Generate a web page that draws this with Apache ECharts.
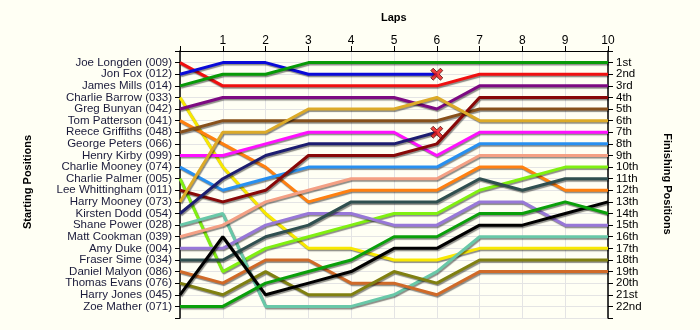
<!DOCTYPE html>
<html>
<head>
<meta charset="utf-8">
<script src="https://cdn.jsdelivr.net/npm/echarts@6/dist/echarts.min.js"></script>
<style>
html,body{margin:0;padding:0;background:#fffff4;}
#chart{width:700px;height:330px;}
</style>
</head>
<body>
<div id="chart"></div>
<script>
const laps = [0,1,2,3,4,5,6,7,8,9,10];
const lapLabels = ['','1','2','3','4','5','6','7','8','9','10'];
const startNames = ['Joe Longden (009)','Jon Fox (012)','James Mills (014)','Charlie Barrow (033)','Greg Bunyan (042)','Tom Patterson (041)','Reece Griffiths (048)','George Peters (066)','Henry Kirby (099)','Charlie Mooney (074)','Charlie Palmer (005)','Lee Whittingham (011)','Harry Mooney (073)','Kirsten Dodd (054)','Shane Power (028)','Matt Cookman (039)','Amy Duke (004)','Fraser Sime (034)','Daniel Malyon (086)','Thomas Evans (076)','Harry Jones (045)','Zoe Mather (071)'];
const finishLabels = ['1st','2nd','3rd','4th','5th','6th','7th','8th','9th','10th','11th','12th','13th','14th','15th','16th','17th','18th','19th','20th','21st','22nd'];

const joeLongden     = [1,3,3,3,3,3,3,2,2,2,2];
const jonFox         = [2,1,1,2,2,2,2];
const jamesMills     = [3,2,2,1,1,1,1,1,1,1,1];
const charlieBarrow  = [4,10,14,17,17,18,18,17,17,17,17];
const gregBunyan     = [5,4,4,4,4,4,5,3,3,3,3];
const tomPatterson   = [6,8,10,13,12,12,12,10,10,12,12];
const reeceGriffiths = [7,6,6,6,6,6,6,5,5,5,5];
const henryKirby     = [9,9,8,7,7,7,9,7,7,7,7];
const charlieMooney  = [10,12,11,10,10,10,10,8,8,8,8];
const charliePalmer  = [11,19,17,16,15,14,14,12,11,10,10];
const leeWhittingham = [12,13,12,9,9,9,8,4,4,4,4];
const harryMooney    = [13,7,7,5,5,5,4,6,6,6,6];
const kirstenDodd    = [14,11,9,8,8,8,7];
const shanePower     = [15,14,22,22,22,21,19,16,16,16,16];
const mattCookman    = [16,15,13,12,11,11,11,9,9,9,9];
const amyDuke        = [17,17,15,14,14,15,15,13,13,15,15];
const fraserSime     = [18,18,16,15,13,13,13,11,12,11,11];
const danielMalyon   = [19,20,18,18,20,20,21,19,19,19,19];
const thomasEvans    = [20,21,19,21,21,19,20,18,18,18,18];
const harryJones     = [21,16,21,20,19,17,17,15,15,14,13];
const zoeMather      = [22,22,20,19,18,16,16,14,14,13,14];

const retiredLap = [6,6];
const retiredPos = [2,7];

const drivers = [
  ['Joe Longden', joeLongden, '#f01010'],
  ['Jon Fox', jonFox, '#0a0ad8'],
  ['James Mills', jamesMills, '#079a07'],
  ['Charlie Barrow', charlieBarrow, '#f8e800'],
  ['Greg Bunyan', gregBunyan, '#7d0a82'],
  ['Tom Patterson', tomPatterson, '#ff8010'],
  ['Reece Griffiths', reeceGriffiths, '#87501a'],
  ['Henry Kirby', henryKirby, '#ff10ff'],
  ['Charlie Mooney', charlieMooney, '#2890f0'],
  ['Charlie Palmer', charliePalmer, '#80f010'],
  ['Lee Whittingham', leeWhittingham, '#880808'],
  ['Harry Mooney', harryMooney, '#dcaa28'],
  ['Kirsten Dodd', kirstenDodd, '#1c1c70'],
  ['Shane Power', shanePower, '#68c8a8'],
  ['Matt Cookman', mattCookman, '#f4a084'],
  ['Amy Duke', amyDuke, '#9878d8'],
  ['Fraser Sime', fraserSime, '#2f4f4f'],
  ['Daniel Malyon', danielMalyon, '#d06a28'],
  ['Thomas Evans', thomasEvans, '#808010'],
  ['Harry Jones', harryJones, '#000000'],
  ['Zoe Mather', zoeMather, '#0aa00a']
];

const chart = echarts.init(document.getElementById('chart'));
const font = 'Liberation Sans, Arial, sans-serif';

const series = drivers.map(d => ({
  name: d[0],
  type: 'line',
  xAxisIndex: 0,
  yAxisIndex: 0,
  symbol: 'none',
  silent: true,
  animation: false,
  data: d[1].map((p, i) => [laps[i], p]),
  lineStyle: {
    color: d[2], width: 3,
    shadowColor: 'rgba(0,0,0,0.45)', shadowBlur: 1, shadowOffsetX: 1, shadowOffsetY: 1.5
  }
}));

series.push({
  type: 'scatter',
  xAxisIndex: 0,
  yAxisIndex: 0,
  animation: false,
  silent: true,
  z: 10,
  symbol: 'path://M2,0 L5,3 L8,0 L10,2 L7,5 L10,8 L8,10 L5,7 L2,10 L0,8 L3,5 L0,2 Z',
  symbolSize: 12,
  itemStyle: { color: '#ee1111', borderColor: '#501010', borderWidth: 1 },
  data: retiredLap.map((l, i) => [l, retiredPos[i]])
});

chart.setOption({
  backgroundColor: '#fffff4',
  animation: false,
  grid: { left: 180, right: 92, top: 51, bottom: 12 },
  xAxis: {
    type: 'value', position: 'top', min: 0, max: 10, interval: 1,
    axisLine: { show: true, lineStyle: { color: '#000', width: 1 } },
    axisTick: { show: true, length: 5, lineStyle: { color: '#000' } },
    axisLabel: { color: '#000', fontFamily: font, fontSize: 12, margin: 4,
      formatter: v => lapLabels[v] },
    splitLine: { show: true, lineStyle: { color: '#e4e4e4', width: 1 } }
  },
  yAxis: [
    {
      type: 'value', inverse: true, min: 0, max: 23, interval: 1, position: 'left',
      axisLine: { show: true, lineStyle: { color: '#000', width: 1.5 } },
      axisTick: { show: true, length: 5, lineStyle: { color: '#000' } },
      axisLabel: { color: '#1a1a3a', fontFamily: font, fontSize: 11.5, margin: 8,
        formatter: v => (v >= 1 && v <= 22) ? startNames[v - 1] : '' },
      splitLine: { show: true, lineStyle: { color: '#e4e4e4', width: 1 } }
    },
    {
      type: 'value', inverse: true, min: 0, max: 23, interval: 1, position: 'right',
      axisLine: { show: true, lineStyle: { color: '#000', width: 1.5 } },
      axisTick: { show: true, length: 5, lineStyle: { color: '#000' } },
      axisLabel: { color: '#000', fontFamily: font, fontSize: 11.5, margin: 8,
        formatter: v => (v >= 1 && v <= 22) ? finishLabels[v - 1] : '' },
      splitLine: { show: false }
    }
  ],
  graphic: [
    { type: 'text', left: 381, top: 12, style: { text: 'Laps', font: 'bold 11px ' + font, fill: '#000' } },
    { type: 'text', x: 28, y: 182, rotation: Math.PI / 2, style: { text: 'Starting Positions', font: 'bold 11px ' + font, fill: '#000', align: 'center', verticalAlign: 'middle' } },
    { type: 'text', x: 667, y: 184, rotation: -Math.PI / 2, style: { text: 'Finishing Positions', font: 'bold 11px ' + font, fill: '#000', align: 'center', verticalAlign: 'middle' } }
  ],
  series: series
});
</script>
</body>
</html>
